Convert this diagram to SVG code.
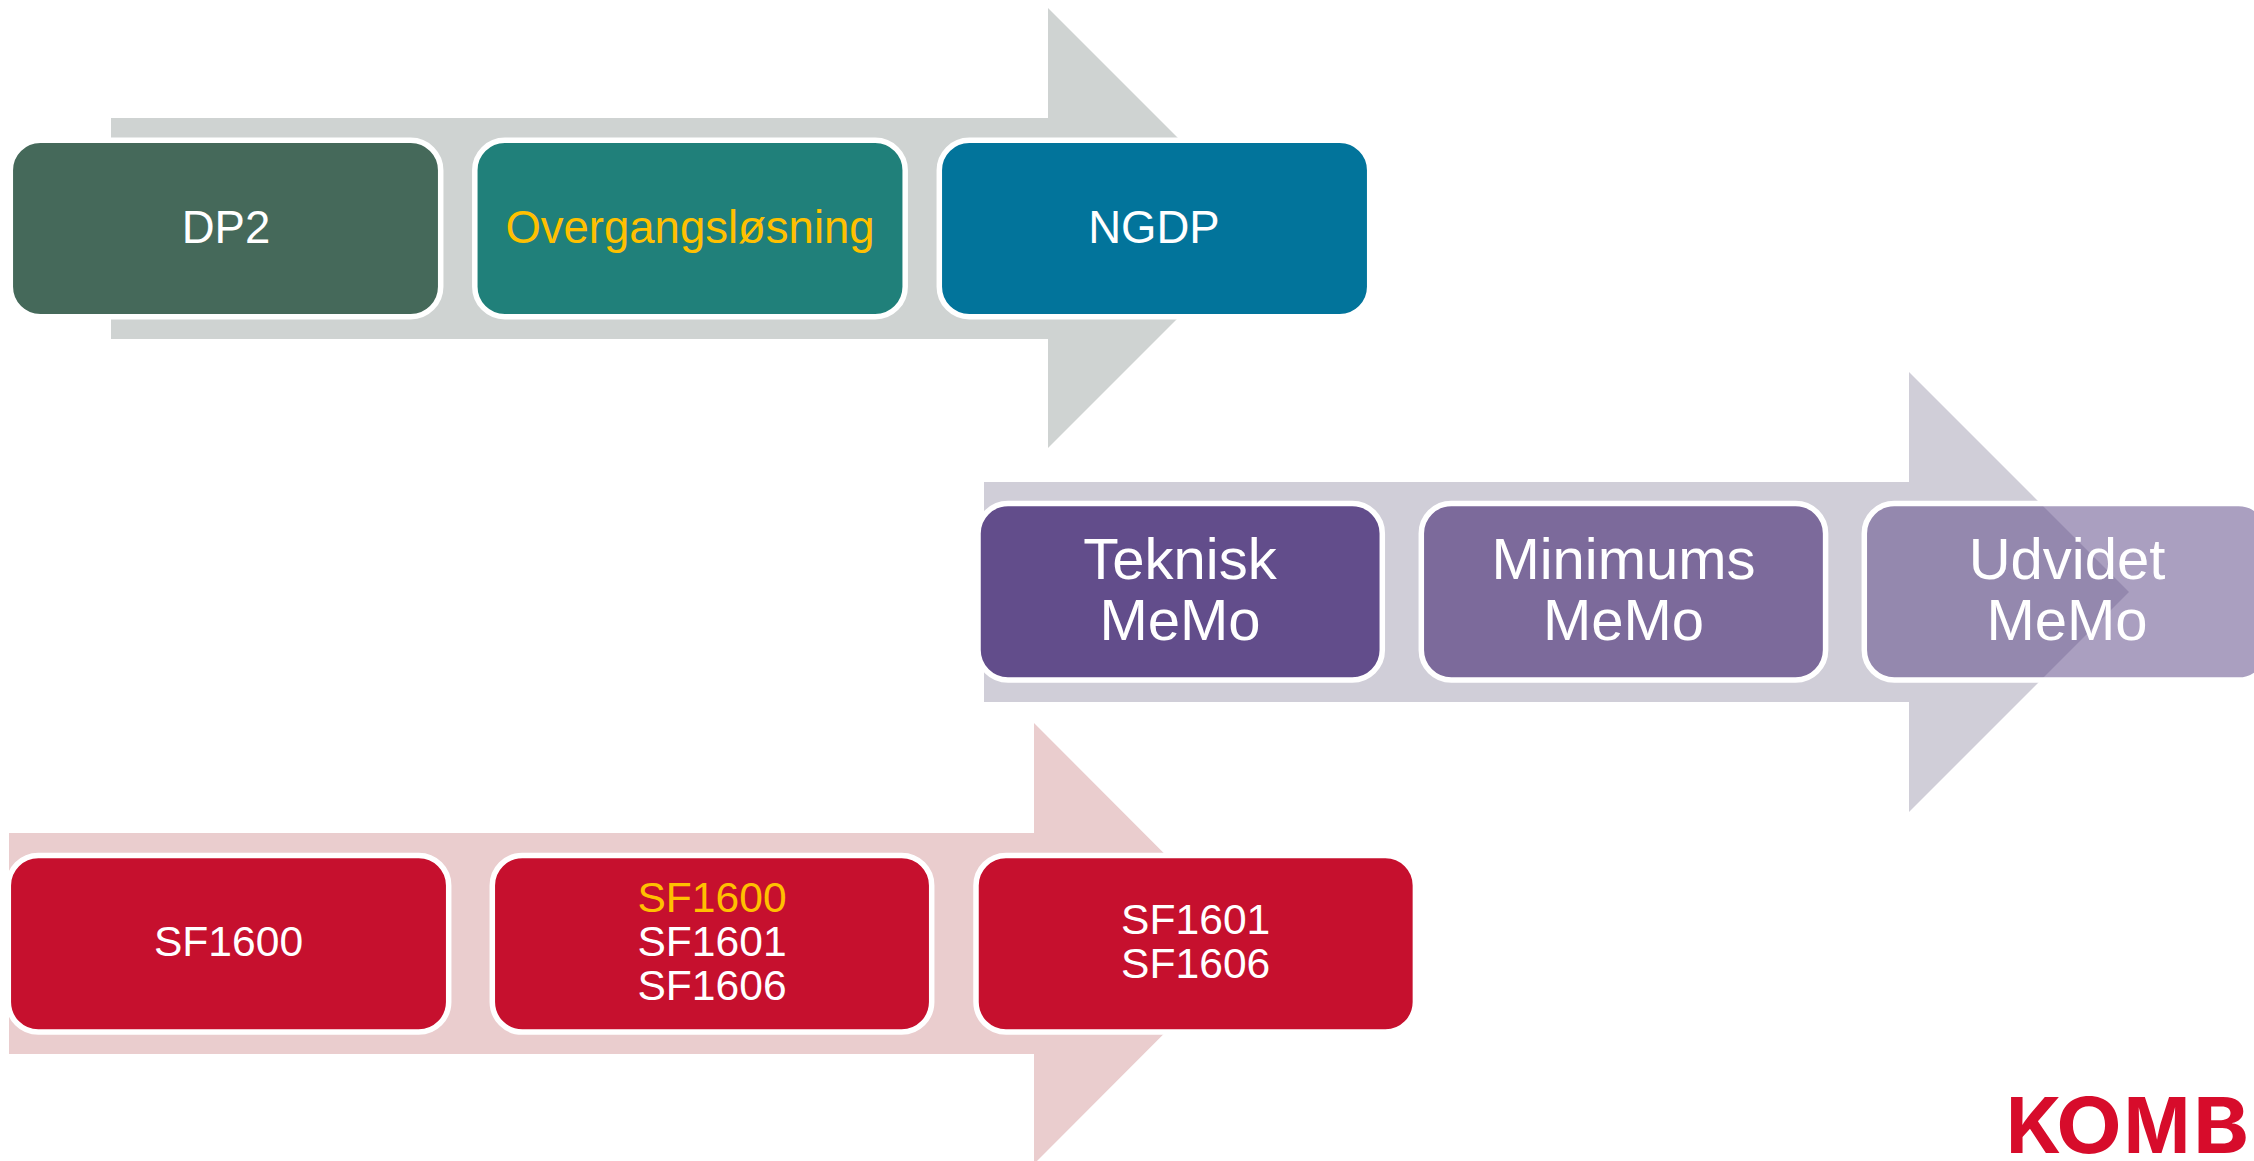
<svg xmlns="http://www.w3.org/2000/svg" width="2254" height="1161" viewBox="0 0 2254 1161">
<style>
.box{stroke:#fff;stroke-width:5.5}
.t{font-family:"Liberation Sans",Arial,sans-serif;fill:#fff;text-anchor:middle}
.a{font-size:45.5px}
.b{font-size:58px}
.c{font-size:42.6px}
.y{fill:#FFC000}
.red{fill:#C6102E}
</style>
<rect width="2254" height="1161" fill="#fff"/>
<g id="connectors">
<polygon id="arrow-1" fill="#CFD3D2" points="111,118 1048,118 1048,8 1268,228 1048,448 1048,339 111,339"/>
<polygon id="arrow-2" fill="#D0CED8" points="984,482 1909,482 1909,372 2129,592 1909,812 1909,702 984,702"/>
<polygon id="arrow-3" fill="#EACDCE" points="9,833 1034,833 1034,723 1254,943.5 1034,1164 1034,1054 9,1054"/>
</g>
<g id="node-dp2"><rect class="box" x="10.3" y="140.3" width="430.4" height="176.4" rx="30" fill="#45695A"/><text class="t a" x="226" y="243">DP2</text></g>
<g id="node-overgang"><rect class="box" x="474.8" y="140.3" width="430.4" height="176.4" rx="30" fill="#20807A"/><text class="t a y" x="690" y="243">Overgangsløsning</text></g>
<g id="node-ngdp"><rect class="box" x="939.3" y="140.3" width="430.4" height="176.4" rx="30" fill="#02749B"/><text class="t a" x="1154" y="243">NGDP</text></g>
<g id="node-teknisk"><rect class="box" x="978" y="503.5" width="404.3" height="176.6" rx="30" fill="#624D8B"/><text class="t b" x="1180" y="579">Teknisk</text><text class="t b" x="1180" y="640">MeMo</text></g>
<g id="node-minimums"><rect class="box" x="1421.3" y="503.5" width="404.3" height="176.6" rx="30" fill="#7C6A9B"/><text class="t b" x="1623.5" y="579">Minimums</text><text class="t b" x="1623.5" y="640">MeMo</text></g>
<g id="node-udvidet"><rect class="box" x="1864.3" y="503.5" width="404.3" height="176.6" rx="30" fill="#624D8B" fill-opacity=".54"/><text class="t b" x="2067" y="579">Udvidet</text><text class="t b" x="2067" y="640">MeMo</text></g>
<g id="node-sf1600"><rect class="box red" x="8.3" y="855.5" width="440.4" height="176.6" rx="30"/><text class="t c" x="228.5" y="956">SF1600</text></g>
<g id="node-sf-all"><rect class="box red" x="492.3" y="855.5" width="439.4" height="176.6" rx="30"/><text class="t c y" x="712" y="912">SF1600</text><text class="t c" x="712" y="956">SF1601</text><text class="t c" x="712" y="1000">SF1606</text></g>
<g id="node-sf1601"><rect class="box red" x="976" y="855.5" width="439.4" height="176.6" rx="30"/><text class="t c" x="1195.7" y="934">SF1601</text><text class="t c" x="1195.7" y="978">SF1606</text></g>
<g id="logo"><text y="1153" font-family="Inter,sans-serif" font-weight="700" font-size="77" fill="#D70C2B"><tspan x="2006">K</tspan><tspan x="2056" textLength="66" lengthAdjust="spacingAndGlyphs">O</tspan><tspan x="2124" textLength="66" lengthAdjust="spacingAndGlyphs">M</tspan><tspan x="2193" textLength="56" lengthAdjust="spacingAndGlyphs">B</tspan></text></g>
</svg>
